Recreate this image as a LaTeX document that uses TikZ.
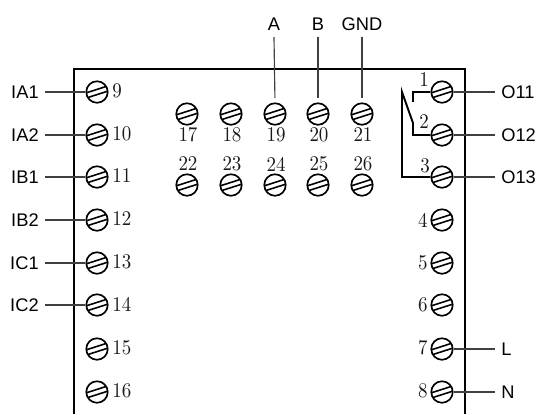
\documentclass[tikz,border=0pt]{standalone}
\usepackage{fontspec}
\newfontfamily\lblfont{Liberation Sans}
\usepackage{tikz}

\tikzset{
  screw/.style={circle, draw, line width=0.95pt, minimum size=0.43cm, inner sep=0pt,
    path picture={
      \draw[line width=0.9pt] ([shift={(-14,1.9)}]path picture bounding box.center) -- ([shift={(14,-7.1)}]path picture bounding box.center);
      \draw[line width=0.9pt] ([shift={(-14,7.1)}]path picture bounding box.center) -- ([shift={(14,-1.9)}]path picture bounding box.center);
    }},
  lbl/.style={font=\lblfont\fontsize{10.4pt}{12pt}\selectfont, inner sep=3.4pt},
  num/.style={font=\fontsize{10.8pt}{12pt}\selectfont, text=black!90, yscale=1.1, inner sep=0pt},
  wire/.style={line width=0.65pt, black!75},
  contact/.style={line width=1.1pt}
}

\begin{document}
\begin{tikzpicture}[x=0.02cm, y=-0.02cm]
      \useasboundingbox (0, 0) rectangle (539, 414);
      % Case:
      \draw[line width=1.15pt] (74, 414) |- (465, 69) -- (465, 414);
      % Left screws:
      \node[screw](S9) at (97, 92){} node[num, anchor=west] at (112, 91){9};
      \node[screw](S10) at (97, 135){} node[num, anchor=west] at (112, 134){10};
      \node[screw](S11) at (97, 177){} node[num, anchor=west] at (112, 176){11};
      \node[screw](S12) at (97, 220){} node[num, anchor=west] at (112, 219){12};
      \node[screw](S13) at (97, 263){} node[num, anchor=west] at (112, 262){13};
      \node[screw](S14) at (97, 305){} node[num, anchor=west] at (112, 304){14};
      \node[screw](S15) at (97, 349){} node[num, anchor=west] at (112, 348){15};
      \node[screw](S16) at (97, 392){} node[num, anchor=west] at (112, 391){16};
      % Right screws:
      \node[screw](S1) at (442, 92){} node[num] at (424, 80){1};
      \node[screw](S2) at (442, 135){} node[num] at (424, 122){2};
      \node[screw](S3) at (442, 177){} node[num] at (425, 166){3};
      \node[screw](S4) at (442, 220){} node[num, anchor=east] at (428, 220){4};
      \node[screw](S5) at (442, 263){} node[num, anchor=east] at (428, 263){5};
      \node[screw](S6) at (442, 305){} node[num, anchor=east] at (428, 305){6};
      \node[screw](S7) at (442, 349){} node[num, anchor=east] at (428, 348){7};
      \node[screw](S8) at (442, 392){} node[num, anchor=east] at (428, 391){8};
      % Middle screws:
      \node[screw](S17) at (187, 114){} node[num] at (188, 135){17};
      \node[screw](S18) at (231, 114){} node[num] at (232, 135){18};
      \node[screw](S19) at (275, 114){} node[num] at (276, 135){19};
      \node[screw](S20) at (318, 114){} node[num] at (319, 135){20};
      \node[screw](S21) at (362, 114){} node[num] at (363, 135){21};
      \node[screw](S22) at (187, 185){} node[num] at (188, 164){22};
      \node[screw](S23) at (231, 185){} node[num] at (232, 164){23};
      \node[screw](S24) at (275, 185){} node[num] at (276, 164){24};
      \node[screw](S25) at (318, 185){} node[num] at (319, 164){25};
      \node[screw](S26) at (362, 185){} node[num] at (363, 164){26};
      % Labels:
      \node[lbl, anchor=east](IA1) at (45, 92){IA1};
      \node[lbl, anchor=east](IA2) at (45, 135){IA2};
      \node[lbl, anchor=east](IB1) at (45, 177){IB1};
      \node[lbl, anchor=east](IB2) at (45, 220){IB2};
      \node[lbl, anchor=east](IC1) at (45, 263){IC1};
      \node[lbl, anchor=east](IC2) at (45, 305){IC2};
      \node[lbl, anchor=west](O11) at (495, 92){O11};
      \node[lbl, anchor=west](O12) at (495, 135){O12};
      \node[lbl, anchor=west](O13) at (495, 177){O13};
      \node[lbl, anchor=west](L) at (495, 349){L};
      \node[lbl, anchor=west](N) at (495, 392){N};
      \node[lbl, anchor=south](A) at (274, 37){A};
      \node[lbl, anchor=south](B) at (318, 37){B};
      \node[lbl, anchor=south](GND) at (362, 37){GND};
      % Wires:
      \draw[wire] (IA1.east) -- (S9.west);
      \draw[wire] (IA2.east) -- (S10.west);
      \draw[wire] (IB1.east) -- (S11.west);
      \draw[wire] (IB2.east) -- (S12.west);
      \draw[wire] (IC1.east) -- (S13.west);
      \draw[wire] (IC2.east) -- (S14.west);
      \draw[wire] (S1.east) -- (O11.west);
      \draw[wire] (S2.east) -- (O12.west);
      \draw[wire] (S3.east) -- (O13.west);
      \draw[wire] (S7.east) -- (L.west);
      \draw[wire] (S8.east) -- (N.west);
      \draw[wire, shorten >=2.5] (A.south) -- (S19.north);
      \draw[wire, shorten >=2.5] (B.south) -- (S20.north);
      \draw[wire, shorten >=2.5] (GND.south) -- (S21.north);
      % Relay contacts:
      \coordinate (C1) at (413, 102);
      \coordinate (C2) at (413, 123);
      \coordinate (C3) at (402, 92);
      \draw[contact] (S1.west) -| (C1);
      \draw[contact] (S2.west) -| (C2) -- (C3) |- (S3.west);
    \end{tikzpicture}
\end{document}
